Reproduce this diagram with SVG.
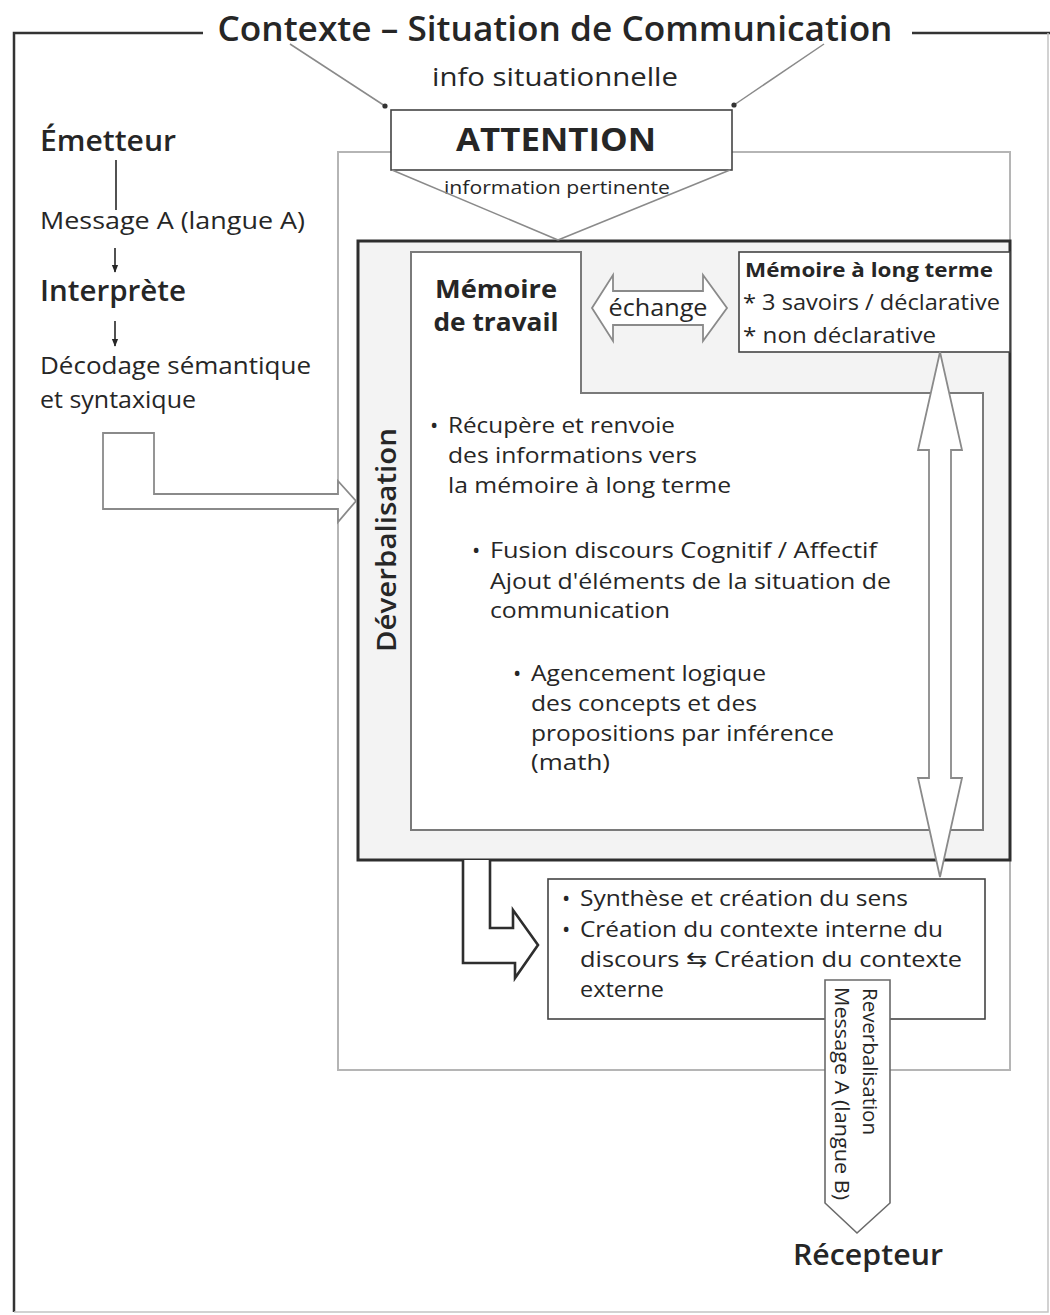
<svg xmlns="http://www.w3.org/2000/svg" width="1050" height="1315" viewBox="0 0 1050 1315">
<style>
text{font-family:"Open Sans","Noto Sans","DejaVu Sans",sans-serif;fill:#262626}
.b{font-weight:700}
.sb{font-weight:600}
.t22{font-size:22px}
.t24{font-size:24px}
.gline{stroke:#8a8a8a;stroke-width:1.5;fill:none}
.box{fill:#fff;stroke:#444;stroke-width:1.6}
.hollow{fill:#fff;stroke:#8a8a8a;stroke-width:1.8;stroke-linejoin:miter}
</style>
<defs>
<marker id="dot" viewBox="0 0 6 6" refX="3" refY="3" markerWidth="6" markerHeight="6" markerUnits="userSpaceOnUse">
<circle cx="3" cy="3" r="2.6" fill="#333"/>
</marker>
<marker id="ah" viewBox="0 0 10 10" refX="9" refY="5" markerWidth="8" markerHeight="8" markerUnits="userSpaceOnUse" orient="auto">
<path d="M0,1 L10,5 L0,9 Z" fill="#262626"/>
</marker>
</defs>
<rect width="1050" height="1315" fill="#fff"/>

<g id="frame">
<path d="M14,1312 V33 H203" fill="none" stroke="#333" stroke-width="2.5"/>
<path d="M912,33 H1050" fill="none" stroke="#333" stroke-width="2.5"/>
<path d="M1048,33 V1312 H14" fill="none" stroke="#c4c4c4" stroke-width="1.5"/>
<text x="555" y="41" text-anchor="middle" class="sb" font-size="35" textLength="675" lengthAdjust="spacingAndGlyphs">Contexte – Situation de Communication</text>
</g>

<g id="outer-process">
<rect x="338" y="152" width="672" height="918" fill="none" stroke="#b5b5b5" stroke-width="2"/>
</g>

<g id="attention">
<rect x="391" y="110" width="341" height="60" class="box"/>
<text x="556" y="151" text-anchor="middle" class="b" font-size="32" textLength="200" lengthAdjust="spacingAndGlyphs">ATTENTION</text>
</g>

<g id="info-situationnelle">
<text x="555" y="86" text-anchor="middle" font-size="26" textLength="246" lengthAdjust="spacingAndGlyphs">info situationnelle</text>
</g>

<g id="information-pertinente">
<text x="557" y="194" text-anchor="middle" font-size="19" textLength="226" lengthAdjust="spacingAndGlyphs">information pertinente</text>
</g>

<g id="deverbalisation-box">
<rect x="358" y="241" width="652" height="619" fill="#f3f3f3" stroke="#2e2e2e" stroke-width="3"/>
<text transform="translate(396,540) rotate(-90)" text-anchor="middle" class="sb" font-size="27" textLength="224" lengthAdjust="spacingAndGlyphs">Déverbalisation</text>
</g>

<g id="memoire-travail">
<path d="M411,252 H581 V393 H983 V830 H411 Z" fill="#fff" stroke="#7a7a7a" stroke-width="2"/>
<text x="496" y="298" text-anchor="middle" class="b" font-size="25" textLength="122" lengthAdjust="spacingAndGlyphs">Mémoire</text>
<text x="496" y="331" text-anchor="middle" class="b" font-size="25" textLength="125" lengthAdjust="spacingAndGlyphs">de travail</text>
<g class="t22">
<text x="430" y="433">•</text>
<text x="448" y="433" textLength="227" lengthAdjust="spacingAndGlyphs">Récupère et renvoie</text>
<text x="448" y="463" textLength="249" lengthAdjust="spacingAndGlyphs">des informations vers</text>
<text x="448" y="493" textLength="283" lengthAdjust="spacingAndGlyphs">la mémoire à long terme</text>
<text x="472" y="558">•</text>
<text x="490" y="558" textLength="387" lengthAdjust="spacingAndGlyphs">Fusion discours Cognitif / Affectif</text>
<text x="490" y="589" textLength="401" lengthAdjust="spacingAndGlyphs">Ajout d'éléments de la situation de</text>
<text x="490" y="618" textLength="180" lengthAdjust="spacingAndGlyphs">communication</text>
<text x="513" y="681">•</text>
<text x="531" y="681" textLength="235" lengthAdjust="spacingAndGlyphs">Agencement logique</text>
<text x="531" y="711" textLength="226" lengthAdjust="spacingAndGlyphs">des concepts et des</text>
<text x="531" y="741" textLength="303" lengthAdjust="spacingAndGlyphs">propositions par inférence</text>
<text x="531" y="770" textLength="79" lengthAdjust="spacingAndGlyphs">(math)</text>
</g>
</g>

<g id="memoire-long-terme">
<rect x="739" y="252" width="271" height="100" class="box"/>
<text x="745" y="277" class="b" font-size="20" textLength="248" lengthAdjust="spacingAndGlyphs">Mémoire à long terme</text>
<text x="743" y="310" font-size="21" textLength="257" lengthAdjust="spacingAndGlyphs">* 3 savoirs / déclarative</text>
<text x="743" y="343" font-size="21" textLength="193" lengthAdjust="spacingAndGlyphs">* non déclarative</text>
</g>

<g id="synthese">
<rect x="548" y="879" width="437" height="140" class="box" stroke="#555"/>
<g class="t22">
<text x="562" y="906">•</text>
<text x="580" y="906" textLength="328" lengthAdjust="spacingAndGlyphs">Synthèse et création du sens</text>
<text x="562" y="937">•</text>
<text x="580" y="937" textLength="363" lengthAdjust="spacingAndGlyphs">Création du contexte interne du</text>
<text x="580" y="967" textLength="382" lengthAdjust="spacingAndGlyphs">discours ⇆ Création du contexte</text>
<text x="580" y="997" textLength="84" lengthAdjust="spacingAndGlyphs">externe</text>
</g>
</g>

<g id="emetteur">
<text x="40" y="151" class="sb" font-size="28" textLength="136" lengthAdjust="spacingAndGlyphs">Émetteur</text>
</g>
<g id="message-a">
<text x="40" y="229" class="t24" textLength="265" lengthAdjust="spacingAndGlyphs">Message A (langue A)</text>
</g>
<g id="interprete">
<text x="40" y="301" class="sb" font-size="28" textLength="146" lengthAdjust="spacingAndGlyphs">Interprète</text>
</g>
<g id="decodage">
<text x="40" y="374" class="t24" textLength="271" lengthAdjust="spacingAndGlyphs">Décodage sémantique</text>
<text x="40" y="408" class="t24" textLength="156" lengthAdjust="spacingAndGlyphs">et syntaxique</text>
</g>

<g id="recepteur">
<text x="868" y="1265" text-anchor="middle" class="sb" font-size="28" textLength="150" lengthAdjust="spacingAndGlyphs">Récepteur</text>
</g>

<g id="connectors">
<line x1="290" y1="44" x2="385" y2="106" class="gline" marker-end="url(#dot)"/>
<line x1="824" y1="44" x2="734" y2="105" class="gline" marker-end="url(#dot)"/>
<line x1="392" y1="170" x2="558" y2="240" class="gline"/>
<line x1="730" y1="170" x2="558" y2="240" class="gline"/>
<line x1="116" y1="160" x2="116" y2="210" stroke="#262626" stroke-width="1.6"/>
<line x1="115" y1="248" x2="115" y2="272" stroke="#262626" stroke-width="1.6" marker-end="url(#ah)"/>
<line x1="115" y1="321" x2="115" y2="346" stroke="#262626" stroke-width="1.6" marker-end="url(#ah)"/>
<path id="arrow-decodage" d="M103,433 H154 V494 H338 V481 L356,501 L338,522 V509 H103 Z" class="hollow"/>
<path id="arrow-echange" d="M592,308 L613,275 V291 H703 V275 L727,308 L703,341 V325 H613 V341 Z" class="hollow"/>
<text x="658" y="316" text-anchor="middle" font-size="23" textLength="99" lengthAdjust="spacingAndGlyphs">échange</text>
<path id="arrow-ltm" d="M940,352 L962,450 H951 V778 H962 L940,877 L918,778 H929 V450 H918 Z" class="hollow"/>
<path id="arrow-synthese" d="M463,860 V963 H515 V978 L538,945 L513,910 V928 H490 V860" fill="#fff" stroke="#2e2e2e" stroke-width="2.6" stroke-linejoin="miter"/>
<path id="arrow-reverbalisation" d="M825,980 H890 V1203 L857,1233 L825,1203 Z" fill="#fff" stroke="#6a6a6a" stroke-width="1.6"/>
<text transform="translate(863,988) rotate(90)" font-size="20" textLength="147" lengthAdjust="spacingAndGlyphs">Reverbalisation</text>
<text transform="translate(835,987) rotate(90)" font-size="20" textLength="213" lengthAdjust="spacingAndGlyphs">Message A (langue B)</text>
</g>
</svg>
